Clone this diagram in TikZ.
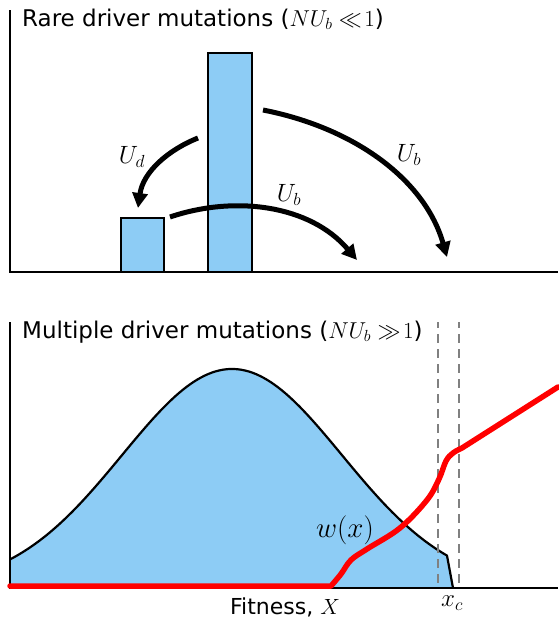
\RequirePackage{fix-cm}
\documentclass[tikz,border=0pt]{standalone}
\usepackage{fontspec}
\setmainfont{DejaVu Sans}
\usetikzlibrary{arrows.meta}
\definecolor{barblue}{RGB}{141,204,245}
\definecolor{dgray}{RGB}{128,128,128}
\tikzset{
  axisline/.style={line width=2.5pt, black},
  barbox/.style={draw=black, line width=2.2pt, fill=barblue},
  flowarrow/.style={line width=5pt, -{Triangle[length=15pt,width=15pt]}},
  lbl/.style={font=\fontsize{25}{30}\selectfont},
  title/.style={anchor=west, font=\fontsize{23}{27}\selectfont, inner sep=0pt},
  critline/.style={dash pattern=on 8.5pt off 6.5pt, dash phase=3pt, line width=2.8pt, dgray},
  fitline/.style={red, line width=5.5pt, line join=round, line cap=round}
}
\begin{document}
\begin{tikzpicture}[x=1pt,y=-1pt]
\useasboundingbox (0,0) rectangle (558,622);
% ---------- top panel ----------
\node[title] (t1) at (22,19) {Rare driver mutations ($NU_b \ll\! 1$)};
\coordinate (ta0) at (10,10);
\coordinate (ta1) at (10,272);
\coordinate (ta2) at (558,272);
\draw[axisline] (ta0) -- (ta1) -- (ta2);
\draw[barbox] (121,218) rectangle (164,272);
\draw[barbox] (208,53) rectangle (252,272);
\coordinate (a1s) at (198,138);
\coordinate (a1e) at (138,208);
\coordinate (a2s) at (170,217);
\coordinate (a2e) at (357,260);
\coordinate (a3s) at (263,110);
\coordinate (a3e) at (447,257);
\draw[flowarrow] (a1s) .. controls (168,150) and (143,172) .. (a1e);
\draw[flowarrow] (a2s) .. controls (235,195) and (310,205) .. (a2e);
\draw[flowarrow] (a3s) .. controls (355,128) and (425,180) .. (a3e);
\node[lbl] (ud) at (132,157) {$U_d$};
\node[lbl] (ub1) at (289,195) {$U_b$};
\node[lbl] (ub2) at (409,155) {$U_b$};
% ---------- bottom panel ----------
\node[title] (t2) at (22,332) {Multiple driver mutations ($NU_b \gg\! 1$)};
\fill[barblue] (10,588) -- plot[domain=10:447, samples=120] (\x, {588-219*exp(-0.5*((\x-232)/110)^2)}) -- (453,588) -- cycle;
\draw[line width=2.2pt, line join=round] plot[domain=10:447, samples=120] (\x, {588-219*exp(-0.5*((\x-232)/110)^2)}) -- (453,588);
\coordinate (ba0) at (10,322);
\coordinate (ba1) at (10,588);
\coordinate (ba2) at (558,588);
\draw[axisline] (ba0) -- (ba1) -- (ba2);
\coordinate (d1t) at (438,322);
\coordinate (d1b) at (438,588);
\coordinate (d2t) at (459,322);
\coordinate (d2b) at (459,588);
\draw[critline] (d1t) -- (d1b);
\draw[critline] (d2t) -- (d2b);
\draw[fitline] (10,586) -- (331,586) plot[smooth, tension=0.6] coordinates {(331,586) (341,574) (351,560) (367,549) (400,528) (427,500) (439,479) (446,461) (453,453) (462,448)} -- (558,387);
\node[font=\fontsize{29}{34}\selectfont] (wx) at (345,530) {$w(x)$};
\node[lbl] (xc) at (452,603) {$x_c$};
\node[font=\fontsize{22}{26}\selectfont] (fx) at (285,607) {Fitness, $X$};
\end{tikzpicture}
\end{document}
